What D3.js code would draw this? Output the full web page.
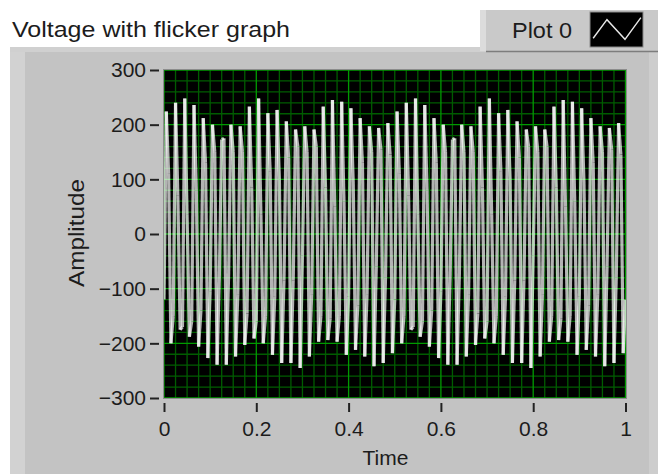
<!DOCTYPE html>
<html><head><meta charset="utf-8">
<script src="https://cdn.jsdelivr.net/npm/d3@7"></script>
<style>html,body{margin:0;padding:0;background:#fff;overflow:hidden}</style>
</head><body>
<svg id="c" width="658" height="474"></svg>
<script>
// ---- data ----
const chartTitle = "Voltage with flicker graph";
const legendLabel = "Plot 0";
const xLabel = "Time";
const yLabel = "Amplitude";
const xTicks = [0, 0.2, 0.4, 0.6, 0.8, 1];
const xTickLabels = ["0", "0.2", "0.4", "0.6", "0.8", "1"];
const yTicks = [300, 200, 100, 0, -100, -200, -300];
const sampleStep = 0.005;           // seconds between samples
const startValue = -120;            // sample at t = 0
// per 50 Hz cycle: high peak sample, sample after it, low trough sample, sample after it
const peakHigh = [224,240,248,236,212,200,173,200,197,233,248,221,227,206,191,197,191,233,245,242,230,212,197,194,203,
                  224,240,248,236,212,200,173,200,197,233,248,221,227,206,191,197,191,233,245,242,230,212,197,194,203];
const afterPeak = [110,70,35,80,130,150,175,150,150,85,35,115,100,140,160,150,160,85,50,60,95,130,150,155,145,
                   110,70,35,80,130,150,175,150,150,85,35,115,100,140,160,150,160,85,50,60,95,130,150,155,145];
const troughLow = [-200,-175,-188,-206,-227,-239,-239,-224,-203,-191,-200,-221,-236,-236,-245,-224,-197,-194,-197,-221,-212,-224,-242,-236,-218,
                   -200,-175,-188,-206,-227,-239,-239,-224,-203,-191,-200,-221,-236,-236,-245,-224,-197,-194,-197,-221,-212,-224,-242,-236,-218];
const afterTrough = [-150,-170,-160,-140,-105,-75,-75,-110,-145,-160,-150,-115,-85,-85,-40,-110,-150,-155,-150,-115,-130,-110,-60,-80,-120,
                     -150,-170,-160,-140,-105,-75,-75,-110,-145,-160,-150,-115,-85,-85,-40,-110,-150,-155,-150,-115,-130,-110,-60,-80,-120];

// ---- build sample series ----
const values = [startValue];
peakHigh.forEach((h, k) => { values.push(h, afterPeak[k], troughLow[k], afterTrough[k]); });
const series = values.map((v, i) => ({t: i * sampleStep, v}));

const FONT = "'Liberation Sans', Arial, sans-serif";
const TXT = "#1c1c1c";
const svg = d3.select("#c");

// white top area
svg.append("rect").attr("width", 658).attr("height", 474).attr("fill", "#ffffff");

// gray panel with 3D edges
svg.append("rect").attr("x", 10).attr("y", 47).attr("width", 648).attr("height", 427).attr("fill", "#c3c3c3");
svg.append("rect").attr("x", 10).attr("y", 47).attr("width", 15).attr("height", 427).attr("fill", "#d2d2d2");
svg.append("rect").attr("x", 10).attr("y", 47).attr("width", 648).attr("height", 5).attr("fill", "#d0d0d0");
svg.append("rect").attr("x", 649).attr("y", 47).attr("width", 9).attr("height", 427).attr("fill", "#cdcdcd");

// title
svg.append("text").attr("x", 12).attr("y", 37).text(chartTitle)
  .attr("font-family", FONT).attr("font-size", 22).attr("fill", TXT)
  .attr("textLength", 278).attr("lengthAdjust", "spacingAndGlyphs");

// legend
const lg = svg.append("g");
lg.append("rect").attr("x", 480).attr("y", 10).attr("width", 178).attr("height", 41).attr("fill", "#c9c9c9");
lg.append("rect").attr("x", 480).attr("y", 10).attr("width", 6).attr("height", 41).attr("fill", "#dcdcdc");
lg.append("line").attr("x1", 486).attr("x2", 658).attr("y1", 51.5).attr("y2", 51.5).attr("stroke", "#7d7d7d").attr("stroke-width", 1.5);
lg.append("text").attr("x", 512).attr("y", 38).text(legendLabel)
  .attr("font-family", FONT).attr("font-size", 22).attr("fill", TXT)
  .attr("textLength", 60).attr("lengthAdjust", "spacingAndGlyphs");
const sw = {x: 590, y: 12, w: 53, h: 35};
lg.append("rect").attr("x", sw.x).attr("y", sw.y).attr("width", sw.w).attr("height", sw.h)
  .attr("fill", "#000").attr("stroke", "#8a8a8a").attr("stroke-width", 1);
const icon = [[0.06, 0.75], [0.32, 0.22], [0.66, 0.78], [0.96, 0.16]];
lg.append("polyline")
  .attr("points", icon.map(p => [sw.x + p[0] * sw.w, sw.y + p[1] * sw.h].join(",")).join(" "))
  .attr("fill", "none").attr("stroke", "#e8e8e8").attr("stroke-width", 1.4);

// scales
const x = d3.scaleLinear().domain([0, 1]).range([164, 625.5]);
const y = d3.scaleLinear().domain([-300, 300]).range([398, 70]);
const plot = {x0: 163, x1: 627, y0: 69, y1: 399};

svg.append("rect").attr("x", plot.x0).attr("y", plot.y0).attr("width", plot.x1 - plot.x0).attr("height", plot.y1 - plot.y0)
  .attr("fill", "#000");

svg.append("defs").append("clipPath").attr("id", "clip").append("rect")
  .attr("x", plot.x0).attr("y", plot.y0).attr("width", plot.x1 - plot.x0).attr("height", plot.y1 - plot.y0);

const grid = svg.append("g").attr("clip-path", "url(#clip)");
const xMinor = d3.range(0, 1.0001, 0.025).filter(d => !xTicks.some(t => Math.abs(t - d) < 1e-6));
const yMinor = d3.range(-300, 300.1, 20).filter(d => !yTicks.includes(Math.round(d)));
grid.selectAll(".vx").data(xMinor).join("line")
  .attr("x1", d => x(d)).attr("x2", d => x(d)).attr("y1", plot.y0).attr("y2", plot.y1)
  .attr("stroke", "#005c00").attr("stroke-width", 1.3);
grid.selectAll(".hy").data(yMinor).join("line")
  .attr("y1", d => y(d)).attr("y2", d => y(d)).attr("x1", plot.x0).attr("x2", plot.x1)
  .attr("stroke", "#005c00").attr("stroke-width", 1.3);
grid.selectAll(".vX").data(xTicks).join("line")
  .attr("x1", d => x(d)).attr("x2", d => x(d)).attr("y1", plot.y0).attr("y2", plot.y1)
  .attr("stroke", "#009a00").attr("stroke-width", 1.3);
grid.selectAll(".hY").data(yTicks).join("line")
  .attr("y1", d => y(d)).attr("y2", d => y(d)).attr("x1", plot.x0).attr("x2", plot.x1)
  .attr("stroke", "#009a00").attr("stroke-width", 1.3);

// signal: each segment drawn separately, semi-opaque so overlaps turn bright white
svg.append("g").attr("clip-path", "url(#clip)")
  .selectAll("line.seg").data(d3.pairs(series)).join("line").attr("class", "seg")
  .attr("x1", d => x(d[0].t)).attr("y1", d => y(d[0].v))
  .attr("x2", d => x(d[1].t)).attr("y2", d => y(d[1].v))
  .attr("stroke", "#ffffff").attr("stroke-width", 3.2).attr("stroke-opacity", 0.7)
  .attr("stroke-linecap", "butt");

// plot frame
svg.append("rect").attr("x", plot.x0 + 0.5).attr("y", plot.y0 + 0.5).attr("width", plot.x1 - plot.x0 - 1).attr("height", plot.y1 - plot.y0 - 1)
  .attr("fill", "none").attr("stroke", "#8c8c8c").attr("stroke-width", 1);

// axes
const yAxis = svg.append("g").attr("transform", "translate(159,0)")
  .call(d3.axisLeft(y).tickValues(yTicks).tickSize(9).tickPadding(4));
const xAxis = svg.append("g").attr("transform", "translate(0,403)")
  .call(d3.axisBottom(x).tickValues(xTicks).tickFormat((d, i) => xTickLabels[i]).tickSize(9).tickPadding(9));
[yAxis, xAxis].forEach(a => {
  a.select(".domain").remove();
  a.selectAll(".tick line").attr("stroke", "#222").attr("stroke-width", 2);
  a.selectAll(".tick text").attr("fill", TXT).attr("font-family", FONT).attr("font-size", 21);
});

// axis titles
svg.append("text").attr("x", 385.5).attr("y", 465).attr("text-anchor", "middle").text(xLabel)
  .attr("font-family", FONT).attr("font-size", 21).attr("fill", TXT);
svg.append("text").attr("transform", "translate(84,233) rotate(-90)").attr("text-anchor", "middle").text(yLabel)
  .attr("font-family", FONT).attr("font-size", 22).attr("fill", TXT)
  .attr("textLength", 108).attr("lengthAdjust", "spacingAndGlyphs");
</script>
</body></html>
